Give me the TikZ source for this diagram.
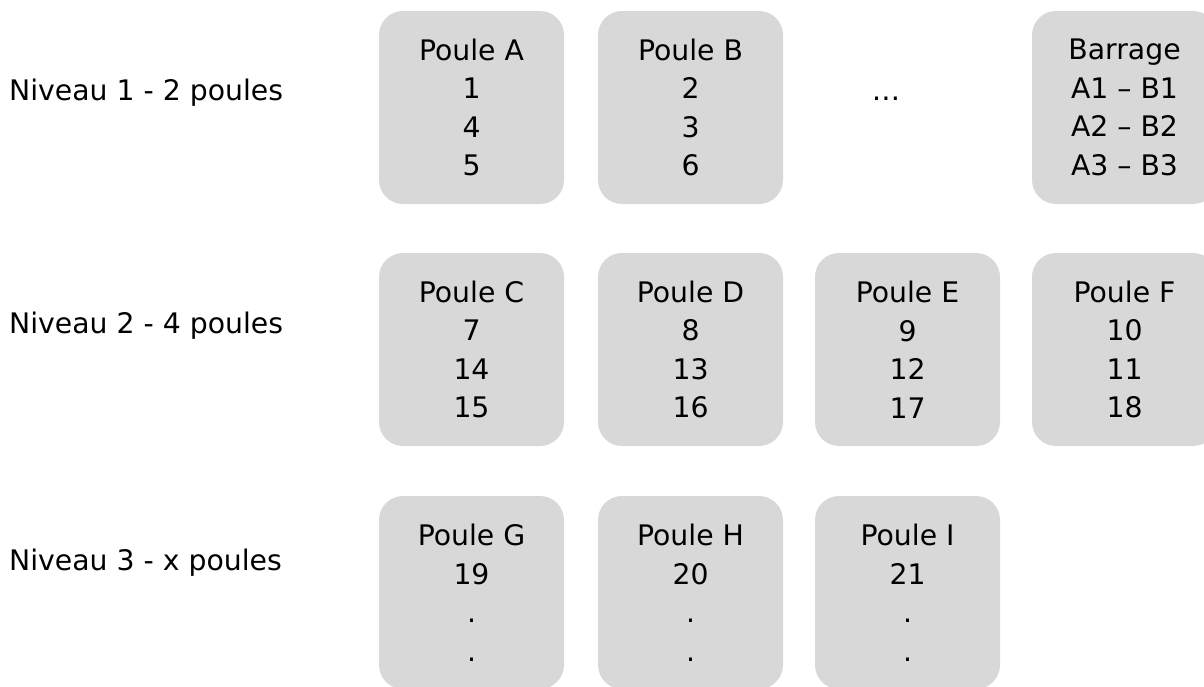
\documentclass[tikz,border=0pt]{standalone}
\usepackage{fontspec}
\setmainfont{DejaVu Sans}
\usepackage{xcolor}
\definecolor{pgray}{RGB}{216,216,216}
\usetikzlibrary{positioning}

\begin{document}
\begin{tikzpicture}[x=1pt,y=-1pt,
    poule/.style={fill=pgray,rounded corners=24pt,inner sep=0pt,
        minimum width=185pt,minimum height=193pt,align=center,
        font=\fontsize{28.3}{38.5}\selectfont},
    niveau/.style={anchor=base west,inner sep=0pt,
        font=\fontsize{28.3}{38.5}\selectfont}]
  \useasboundingbox (0,0) rectangle (1204,686);
  \begin{scope}
  \clip (0,0) rectangle (1204,686);
  %% Niveau 1
  \node[niveau] (n1) at (9,100) {Niveau 1 - 2 poules};
  \node[poule] (pa) at (471.5,107.5) {Poule A\\1\\4\\5};
  \node[poule] (pb) at (690.5,107.5) {Poule B\\2\\3\\6};
  \node[niveau,anchor=base] (dots) at (886,100) {…};
  \node[poule] (barrage) at (1124.5,107.5) {Barrage\\A1 – B1\\A2 – B2\\A3 – B3};
  %% Niveau 2
  \node[niveau] (n2) at (9,333) {Niveau 2 - 4 poules};
  \node[poule] (pc) at (471.5,349.5) {Poule C\\7\\14\\15};
  \node[poule] (pd) at (690.5,349.5) {Poule D\\8\\13\\16};
  \node[poule] (pe) at (907.5,349.5) {Poule E\\9\\12\\17};
  \node[poule] (pf) at (1124.5,349.5) {Poule F\\10\\11\\18};
  %% Niveau 3
  \node[niveau] (n3) at (9,570) {Niveau 3 - x poules};
  \node[poule] (pg) at (471.5,592.5) {Poule G\\19\\.\\.};
  \node[poule] (ph) at (690.5,592.5) {Poule H\\20\\.\\.};
  \node[poule] (pi) at (907.5,592.5) {Poule I\\21\\.\\.};
  \end{scope}
\end{tikzpicture}
\end{document}
